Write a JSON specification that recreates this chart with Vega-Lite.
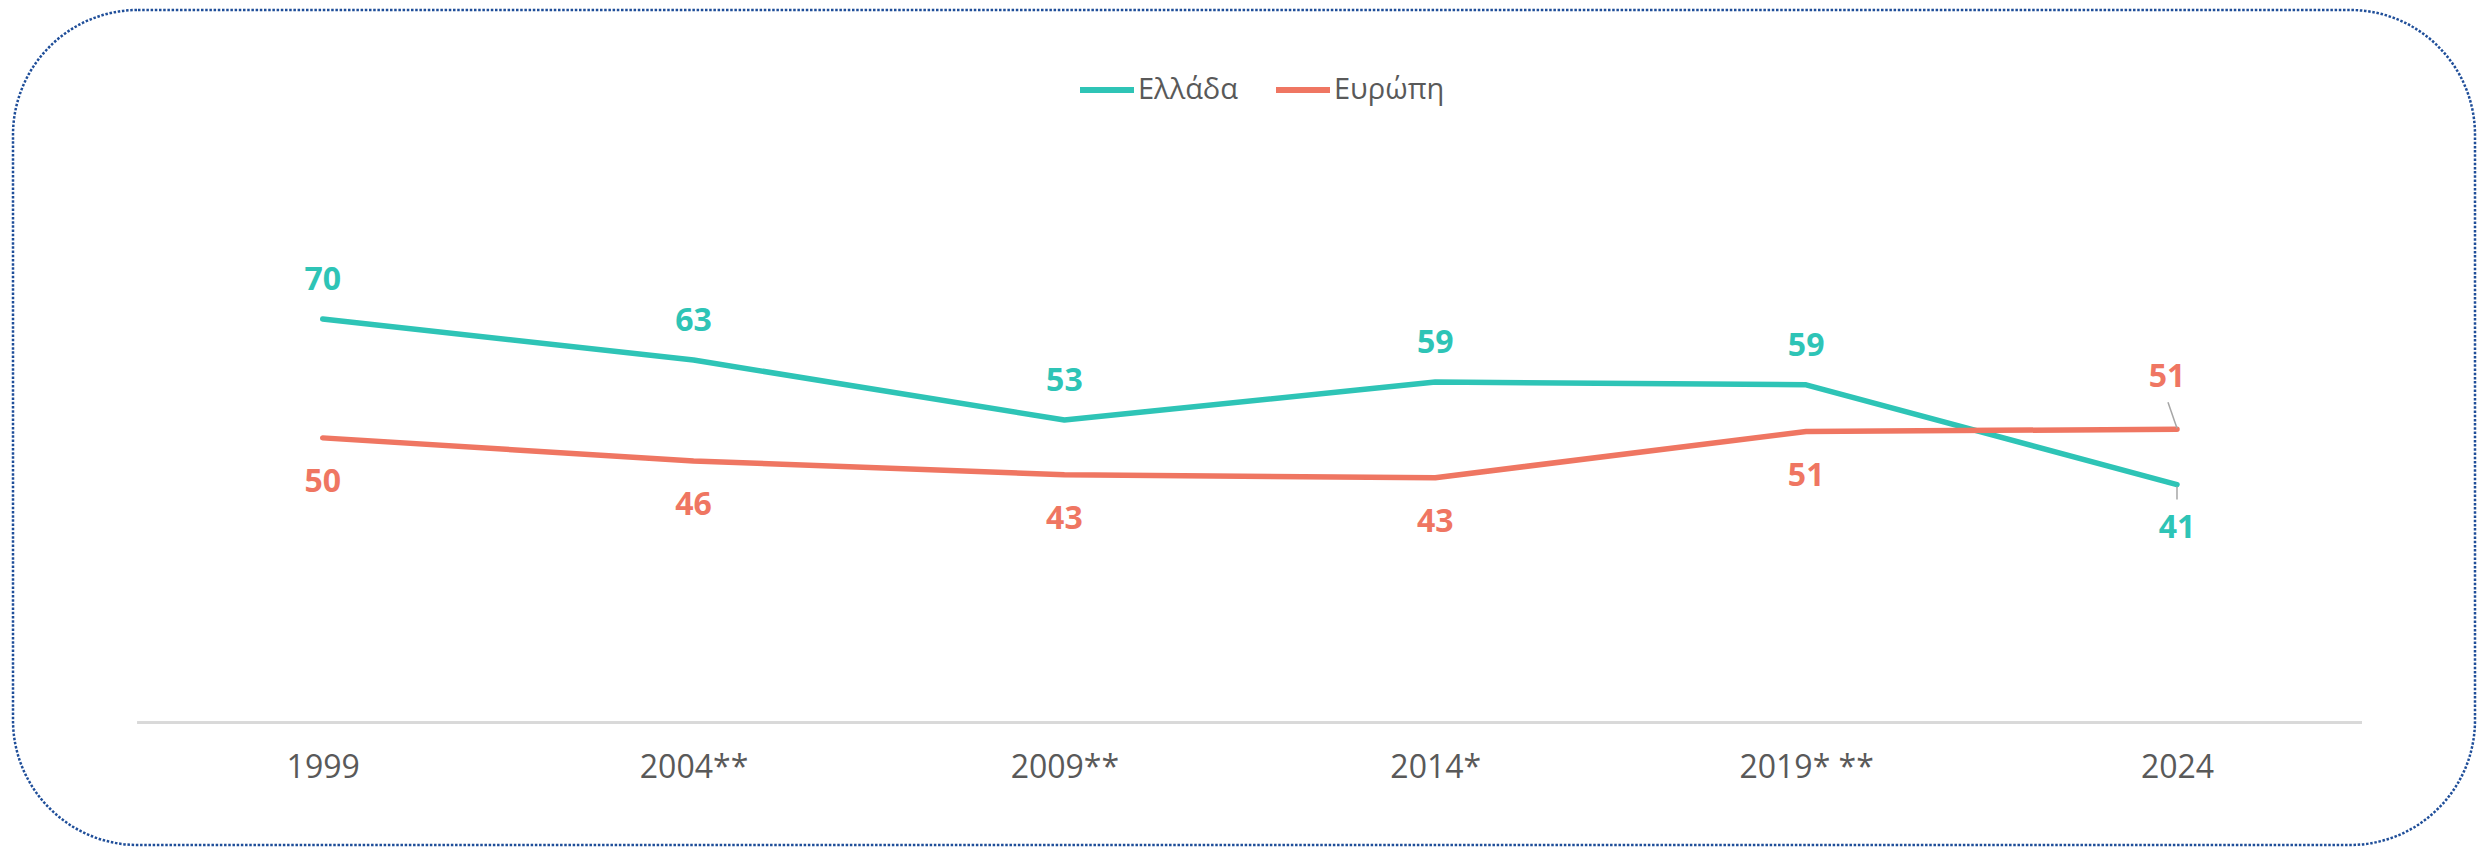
{
  "$schema": "https://vega.github.io/schema/vega-lite/v6.json",
  "width": 2462,
  "height": 835,
  "padding": {"left": 13, "top": 10, "right": 4, "bottom": 2},
  "autosize": {"type": "none"},
  "background": "white",
  "config": {
    "view": {"stroke": "#1f4e99", "strokeWidth": 2.5, "strokeDash": [2.5, 1.7], "cornerRadius": 125},
    "font": "Open Sans"
  },
  "data": {
    "values": [
      {"year": "1999", "country": "Ελλάδα", "value": 70.0, "label": "70"},
      {"year": "2004**", "country": "Ελλάδα", "value": 62.9, "label": "63"},
      {"year": "2009**", "country": "Ελλάδα", "value": 52.5, "label": "53"},
      {"year": "2014*", "country": "Ελλάδα", "value": 59.1, "label": "59"},
      {"year": "2019* **", "country": "Ελλάδα", "value": 58.6, "label": "59"},
      {"year": "2024", "country": "Ελλάδα", "value": 41.3, "label": "41"},
      {"year": "1999", "country": "Ευρώπη", "value": 49.4, "label": "50"},
      {"year": "2004**", "country": "Ευρώπη", "value": 45.4, "label": "46"},
      {"year": "2009**", "country": "Ευρώπη", "value": 43.0, "label": "43"},
      {"year": "2014*", "country": "Ευρώπη", "value": 42.5, "label": "43"},
      {"year": "2019* **", "country": "Ευρώπη", "value": 50.5, "label": "51"},
      {"year": "2024", "country": "Ευρώπη", "value": 50.9, "label": "51"}
    ]
  },
  "encoding": {
    "x": {
      "field": "year", "type": "ordinal", "sort": null,
      "scale": {"type": "point", "domain": ["1999", "2004**", "2009**", "2014*", "2019* **", "2024"], "padding": 0.8193, "align": 0.5096},
      "axis": {
        "title": null, "labelAngle": 0, "ticks": false, "domain": false,
        "offset": -122.3, "labelFontSize": 32, "labelColor": "#595959",
        "labelPadding": 30, "labelFont": "Open Sans"
      }
    },
    "y": {
      "field": "value", "type": "quantitative",
      "scale": {"domain": [-21.2, 123.6], "nice": false, "zero": false},
      "axis": null
    }
  },
  "layer": [
    {
      "mark": {"type": "rule", "color": "#d9d9d9", "strokeWidth": 2.5, "xOffset": -185, "x2Offset": 185},
      "encoding": {
        "x": {"datum": "1999"},
        "x2": {"datum": "2024"},
        "y": {"datum": 0}
      }
    },
    {
      "mark": {"type": "line", "strokeWidth": 5.5, "strokeCap": "round", "strokeJoin": "round"},
      "encoding": {
        "color": {
          "field": "country", "type": "nominal", "sort": ["Ελλάδα", "Ευρώπη"],
          "scale": {"domain": ["Ελλάδα", "Ευρώπη"], "range": ["#2ec4b6", "#ef7662"]},
          "legend": {
            "title": null, "orient": "none", "direction": "horizontal",
            "legendX": 1064, "legendY": 50,
            "symbolType": "stroke", "symbolSize": 2916, "symbolStrokeWidth": 6,
            "labelFontSize": 29, "labelColor": "#595959", "labelFont": "Open Sans",
            "labelOffset": 1, "columnPadding": 26, "padding": 0
          }
        }
      }
    },
    {
      "transform": [{"filter": "datum.year == '2024' && datum.country == 'Ευρώπη'"}],
      "mark": {"type": "rule", "color": "#a6a6a6", "strokeWidth": 1.5, "xOffset": -9, "yOffset": -27, "x2Offset": 0, "y2Offset": -1},
      "encoding": {
        "x": {"field": "year", "type": "ordinal", "sort": null},
        "x2": {"field": "year"},
        "y": {"field": "value", "type": "quantitative"},
        "y2": {"field": "value"}
      }
    },
    {
      "transform": [{"filter": "datum.year == '2024' && datum.country == 'Ελλάδα'"}],
      "mark": {"type": "rule", "color": "#a6a6a6", "strokeWidth": 1.5, "xOffset": 0, "yOffset": 2, "x2Offset": 0, "y2Offset": 15},
      "encoding": {
        "x": {"field": "year", "type": "ordinal", "sort": null},
        "x2": {"field": "year"},
        "y": {"field": "value", "type": "quantitative"},
        "y2": {"field": "value"}
      }
    },
    {
      "transform": [{"filter": "datum.country == 'Ελλάδα' && datum.year != '2024'"}],
      "mark": {"type": "text", "fontSize": 32, "fontWeight": "bold", "color": "#2ec4b6", "baseline": "middle", "dy": -39},
      "encoding": {"text": {"field": "label"}}
    },
    {
      "transform": [{"filter": "datum.country == 'Ευρώπη' && datum.year != '2024'"}],
      "mark": {"type": "text", "fontSize": 32, "fontWeight": "bold", "color": "#ef7662", "baseline": "middle", "dy": 44},
      "encoding": {"text": {"field": "label"}}
    },
    {
      "transform": [{"filter": "datum.country == 'Ελλάδα' && datum.year == '2024'"}],
      "mark": {"type": "text", "fontSize": 32, "fontWeight": "bold", "color": "#2ec4b6", "baseline": "middle", "dy": 43},
      "encoding": {"text": {"field": "label"}}
    },
    {
      "transform": [{"filter": "datum.country == 'Ευρώπη' && datum.year == '2024'"}],
      "mark": {"type": "text", "fontSize": 32, "fontWeight": "bold", "color": "#ef7662", "baseline": "middle", "dy": -52, "dx": -10},
      "encoding": {"text": {"field": "label"}}
    }
  ]
}
